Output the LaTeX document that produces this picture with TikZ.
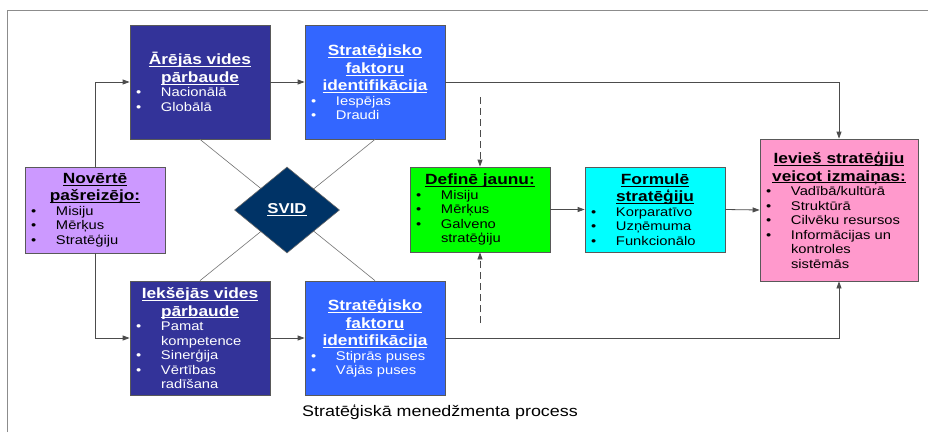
\documentclass[tikz,border=0pt]{standalone}
\usepackage{fontspec}
\setmainfont{Liberation Sans}[FakeStretch=1.17]
\usetikzlibrary{arrows.meta,shapes.geometric}

\definecolor{extblue}{HTML}{333399}
\definecolor{factblue}{HTML}{3366FF}
\definecolor{lavender}{HTML}{CC99FF}
\definecolor{newgreen}{HTML}{00FF00}
\definecolor{formcyan}{HTML}{00FFFF}
\definecolor{implpink}{HTML}{FF99CC}
\definecolor{svidnavy}{HTML}{003366}

% underline at a fixed depth below the baseline
\newcommand\uln[1]{\leavevmode\setbox0\hbox{#1}\rlap{\rule[-2.4pt]{\wd0}{1.1pt}}\box0}
\newcommand\bodysize{\fontsize{12.6}{14.5}\selectfont}
\newcommand\headsize{\fontsize{14.8}{17.6}\selectfont\bfseries}
\newcommand\boxhead[1]{{\centering\headsize #1\par}}
% bullet item; \newline keeps wrapped lines in the same hanging paragraph
\newcommand\bitem[1]{\par\hangindent=31pt\hangafter=1\noindent\makebox[31pt][l]{\hspace{6pt}\textbullet}#1\par}
\newcommand\boxbody[2]{\begin{minipage}{#1}\raggedright\bodysize #2\end{minipage}}

\tikzset{
  box/.style={draw=black!65, line width=0.8pt, inner sep=0pt},
  conn/.style={draw=black!70, line width=0.8pt, -{Triangle[length=7pt,width=5pt]}},
  dashconn/.style={conn, dash pattern=on 7pt off 4pt},
  cross/.style={draw=black!55, line width=0.6pt},
  frame/.style={draw=black!45, line width=1pt}
}

\begin{document}
\begin{tikzpicture}[x=1pt,y=-1pt]
\useasboundingbox (0,0) rectangle (928,432);
\fill[white] (0,0) rectangle (928,432);

% outer frame (top and left edges)
\coordinate (fl) at (7,432);
\coordinate (fc) at (7,10);
\coordinate (fr) at (928,10);
\draw[frame] (fl) -- (fc) -- (fr);

% assessment of the current state
\node[box, fill=lavender, minimum width=140pt, minimum height=86pt] (nov) at (95,210)
  {\boxbody{140pt}{\boxhead{\uln{Novērtē}\\\uln{pašreizējo:}}
   \bitem{Misiju}\bitem{Mērķus}\bitem{Stratēģiju}}};

% external and internal scanning
\node[box, fill=extblue, text=white, minimum width=140pt, minimum height=114pt] (ext) at (200,82)
  {\boxbody{140pt}{\boxhead{\uln{Ārējās vides}\\\uln{pārbaude}}
   \bitem{Nacionālā}\bitem{Globālā}}};
\node[box, fill=extblue, text=white, minimum width=140pt, minimum height=114pt] (int) at (200,338)
  {\boxbody{140pt}{\boxhead{\uln{Iekšējās vides}\\\uln{pārbaude}}
   \bitem{Pamat\newline kompetence}\bitem{Sinerģija}\bitem{Vērtības\newline radīšana}}};

% strategic factor identification
\node[box, fill=factblue, text=white, minimum width=140pt, minimum height=114pt] (sfa) at (375,82)
  {\boxbody{140pt}{\boxhead{\uln{Stratēģisko}\\\uln{faktoru}\\\uln{identifikācija}}
   \bitem{Iespējas}\bitem{Draudi}}};
\node[box, fill=factblue, text=white, minimum width=140pt, minimum height=114pt] (sfb) at (375,338)
  {\boxbody{140pt}{\boxhead{\uln{Stratēģisko}\\\uln{faktoru}\\\uln{identifikācija}}
   \bitem{Stiprās puses}\bitem{Vājās puses}}};

% define, formulate, implement
\node[box, fill=newgreen, minimum width=140pt, minimum height=85pt] (def) at (480,209.5)
  {\boxbody{140pt}{\boxhead{\uln{Definē jaunu:}}
   \bitem{Misiju}\bitem{Mērķus}\bitem{Galveno\newline stratēģiju}}};
\node[box, fill=formcyan, minimum width=140pt, minimum height=85pt] (form) at (655,209.5)
  {\boxbody{140pt}{\boxhead{\uln{Formulē}\\\uln{stratēģiju}}
   \bitem{Korparatīvo}\bitem{Uzņēmuma}\bitem{Funkcionālo}}};
\node[box, fill=implpink, minimum width=158pt, minimum height=142pt] (impl) at (839,210)
  {\boxbody{158pt}{\boxhead{\uln{Ievieš stratēģiju}\\\uln{veicot izmaiņas:}}
   \bitem{Vadībā/kultūrā}\bitem{Struktūrā}\bitem{Cilvēku resursos}
   \bitem{Informācijas un\newline kontroles\newline sistēmās}}};

% SWOT cross lines, drawn under the diamond
\draw[cross] (ext.south) -- (sfb.north);
\draw[cross] (sfa.south) -- (int.north);
\node[diamond, draw=black!60, line width=0.6pt, fill=svidnavy, text=white, inner sep=0pt,
      minimum width=105pt, minimum height=86pt, aspect=1.22] (svid) at (287,210)
  {\fontsize{14.3}{16}\selectfont\bfseries\uln{SVID}};

% flow connectors
\draw[conn] (nov.north) |- (ext.west);
\draw[conn] (nov.south) |- (int.west);
\draw[conn] (ext.east) -- (sfa.west);
\draw[conn] (int.east) -- (sfb.west);
\draw[conn] (sfa.east) -| (impl.north);
\draw[conn] (sfb.east) -| (impl.south);
\draw[conn] (def.east) -- (form.west);
\draw[conn] (form.east) -- (impl.west);

% dashed feedback into the definition step
\coordinate (dtop) at (480,97);
\coordinate (dbot) at (480,323);
\draw[dashconn] (dtop) -- (def.north);
\draw[dashconn] (dbot) -- (def.south);

% caption
\node[font=\fontsize{15.3}{18}\selectfont] (cap) at (440,412) {Stratēģiskā menedžmenta process};
\end{tikzpicture}
\end{document}
